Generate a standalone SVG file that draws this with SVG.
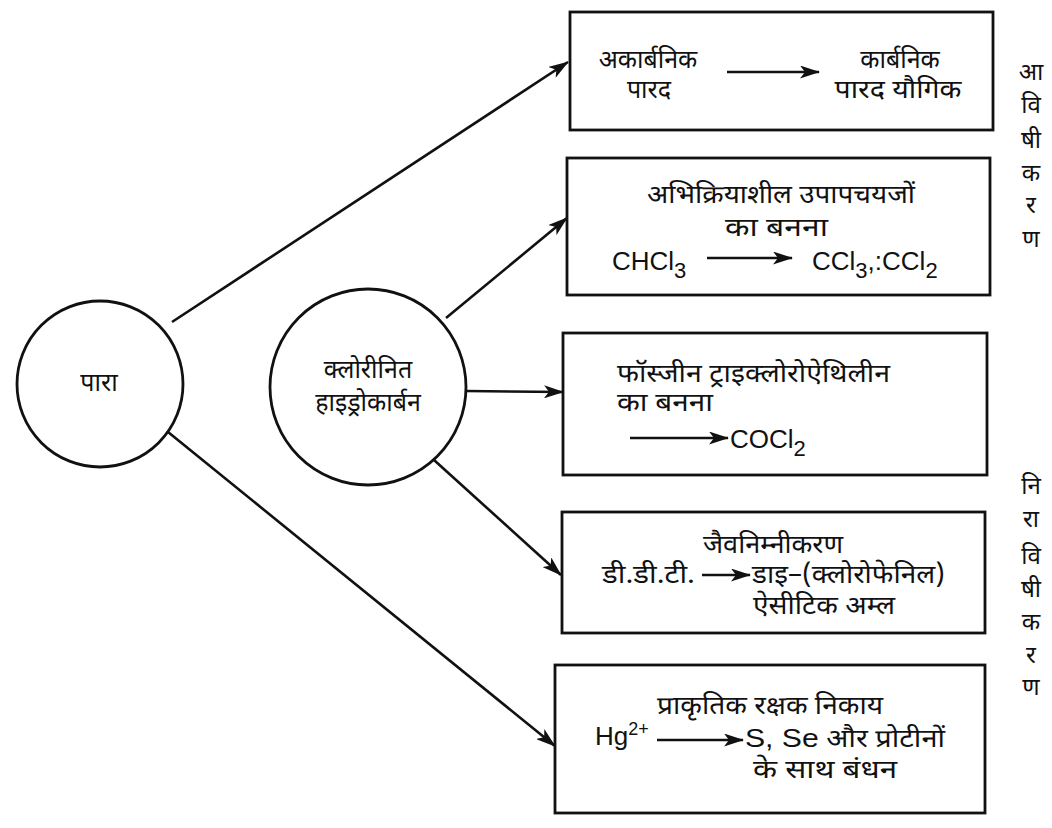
<svg xmlns="http://www.w3.org/2000/svg" width="1052" height="828" viewBox="0 0 1052 828">
  <style>
    .node { fill: none; stroke: #111; stroke-width: 2.8; }
    .edge { fill: none; stroke: #111; stroke-width: 2.6; }
    .hi { font-family: "Noto Sans Devanagari", "Lohit Devanagari", "Mukta", "Noto Sans", "Liberation Sans", sans-serif; font-size: 25px; fill: #111; }
    .side { font-size: 24px; }
    .la { font-family: "Liberation Sans", Arial, sans-serif; font-size: 26px; fill: #111; }
    .sub { font-family: "Liberation Sans", Arial, sans-serif; font-size: 22px; fill: #111; }
    .sup { font-family: "Liberation Sans", Arial, sans-serif; font-size: 18px; fill: #111; }
    .c { text-anchor: middle; }
  </style>
  <defs>
    <marker id="arr" viewBox="0 0 20 13" refX="19" refY="6.5" markerWidth="20" markerHeight="13" markerUnits="userSpaceOnUse" orient="auto">
      <path d="M0,0 L20,6.5 L0,13 L5,6.5 Z" fill="#111"/>
    </marker>
  </defs>

  <!-- connectors -->
  <g id="connectors">
    <line class="edge" x1="172" y1="322" x2="568" y2="62" marker-end="url(#arr)"/>
    <line class="edge" x1="168" y1="432" x2="555" y2="746" marker-end="url(#arr)"/>
    <line class="edge" x1="446" y1="318" x2="567" y2="218" marker-end="url(#arr)"/>
    <line class="edge" x1="466" y1="391" x2="563" y2="392" marker-end="url(#arr)"/>
    <line class="edge" x1="434" y1="460" x2="561" y2="575" marker-end="url(#arr)"/>
  </g>

  <!-- mercury -->
  <g id="mercury">
    <circle class="node" cx="100" cy="384" r="83"/>
    <text class="hi c" x="99" y="391">पारा</text>
  </g>

  <!-- chlorinated hydrocarbons -->
  <g id="chlorinated">
    <circle class="node" cx="368" cy="387" r="98"/>
    <text class="hi c" x="368" y="378">क्लोरीनित</text>
    <text class="hi c" x="368" y="411">हाइड्रोकार्बन</text>
  </g>

  <!-- methylation -->
  <g id="methylation">
    <rect class="node" x="570" y="12" width="423" height="118"/>
    <text class="hi c" x="648" y="68">अकार्बनिक</text>
    <text class="hi c" x="649" y="98">पारद</text>
    <line class="edge" x1="727" y1="72" x2="819" y2="72" marker-end="url(#arr)"/>
    <text class="hi c" x="900" y="68">कार्बनिक</text>
    <text class="hi c" x="898" y="98" textLength="127" lengthAdjust="spacingAndGlyphs">पारद यौगिक</text>
  </g>

  <!-- reactive metabolites -->
  <g id="metabolites">
    <rect class="node" x="567" y="158" width="423" height="137"/>
    <text class="hi" x="647" y="203" textLength="268" lengthAdjust="spacingAndGlyphs">अभिक्रियाशील उपापचयजों</text>
    <text class="hi" x="725" y="236" textLength="103" lengthAdjust="spacingAndGlyphs">का बनना</text>
    <text class="la" x="612" y="270">CHCl<tspan class="sub" dy="8">3</tspan></text>
    <line class="edge" x1="707" y1="258" x2="792" y2="258" marker-end="url(#arr)"/>
    <text class="la" x="812" y="270">CCl<tspan class="sub" dy="8">3</tspan><tspan dy="-8">,:CCl</tspan><tspan class="sub" dy="8">2</tspan></text>
  </g>

  <!-- phosgene -->
  <g id="phosgene">
    <rect class="node" x="563" y="333" width="424" height="142"/>
    <text class="hi" x="617" y="382" textLength="273" lengthAdjust="spacingAndGlyphs">फॉस्जीन ट्राइक्लोरोऐथिलीन</text>
    <text class="hi" x="617" y="411" textLength="96" lengthAdjust="spacingAndGlyphs">का बनना</text>
    <line class="edge" x1="630" y1="438" x2="728" y2="438" marker-end="url(#arr)"/>
    <text class="la" x="730" y="448">COCl<tspan class="sub" dy="8">2</tspan></text>
  </g>

  <!-- biodegradation -->
  <g id="biodegradation">
    <rect class="node" x="562" y="512" width="423" height="121"/>
    <text class="hi" x="703" y="553" textLength="140" lengthAdjust="spacingAndGlyphs">जैवनिम्नीकरण</text>
    <text class="hi" x="602" y="583" textLength="93" lengthAdjust="spacingAndGlyphs">डी.डी.टी.</text>
    <line class="edge" x1="702" y1="575" x2="750" y2="575" marker-end="url(#arr)"/>
    <text class="hi" x="752" y="583" textLength="193" lengthAdjust="spacingAndGlyphs">डाइ–(क्लोरोफेनिल)</text>
    <text class="hi" x="753" y="614" textLength="142" lengthAdjust="spacingAndGlyphs">ऐसीटिक अम्ल</text>
  </g>

  <!-- natural protection -->
  <g id="protection">
    <rect class="node" x="555" y="665" width="430" height="148"/>
    <text class="hi" x="657" y="714" textLength="226" lengthAdjust="spacingAndGlyphs">प्राकृतिक रक्षक निकाय</text>
    <text class="la" x="595" y="745">Hg<tspan class="sup" dy="-10">2+</tspan></text>
    <line class="edge" x1="657" y1="740" x2="743" y2="740" marker-end="url(#arr)"/>
    <text class="hi" x="745" y="747" textLength="200" lengthAdjust="spacingAndGlyphs"><tspan class="la" font-size="24">S, Se</tspan> और प्रोटीनों</text>
    <text class="hi" x="753" y="778" textLength="144" lengthAdjust="spacingAndGlyphs">के साथ बंधन</text>
  </g>

  <!-- side labels -->
  <g id="toxification" class="hi side c">
    <text x="1031" y="80">आ</text>
    <text x="1031" y="113">वि</text>
    <text x="1031" y="148">षी</text>
    <text x="1031" y="181">क</text>
    <text x="1031" y="213">र</text>
    <text x="1031" y="247">ण</text>
  </g>
  <g id="detoxification" class="hi side c">
    <text x="1031" y="494">नि</text>
    <text x="1031" y="527">रा</text>
    <text x="1031" y="564">वि</text>
    <text x="1031" y="597">षी</text>
    <text x="1031" y="630">क</text>
    <text x="1031" y="663">र</text>
    <text x="1031" y="695">ण</text>
  </g>
</svg>
